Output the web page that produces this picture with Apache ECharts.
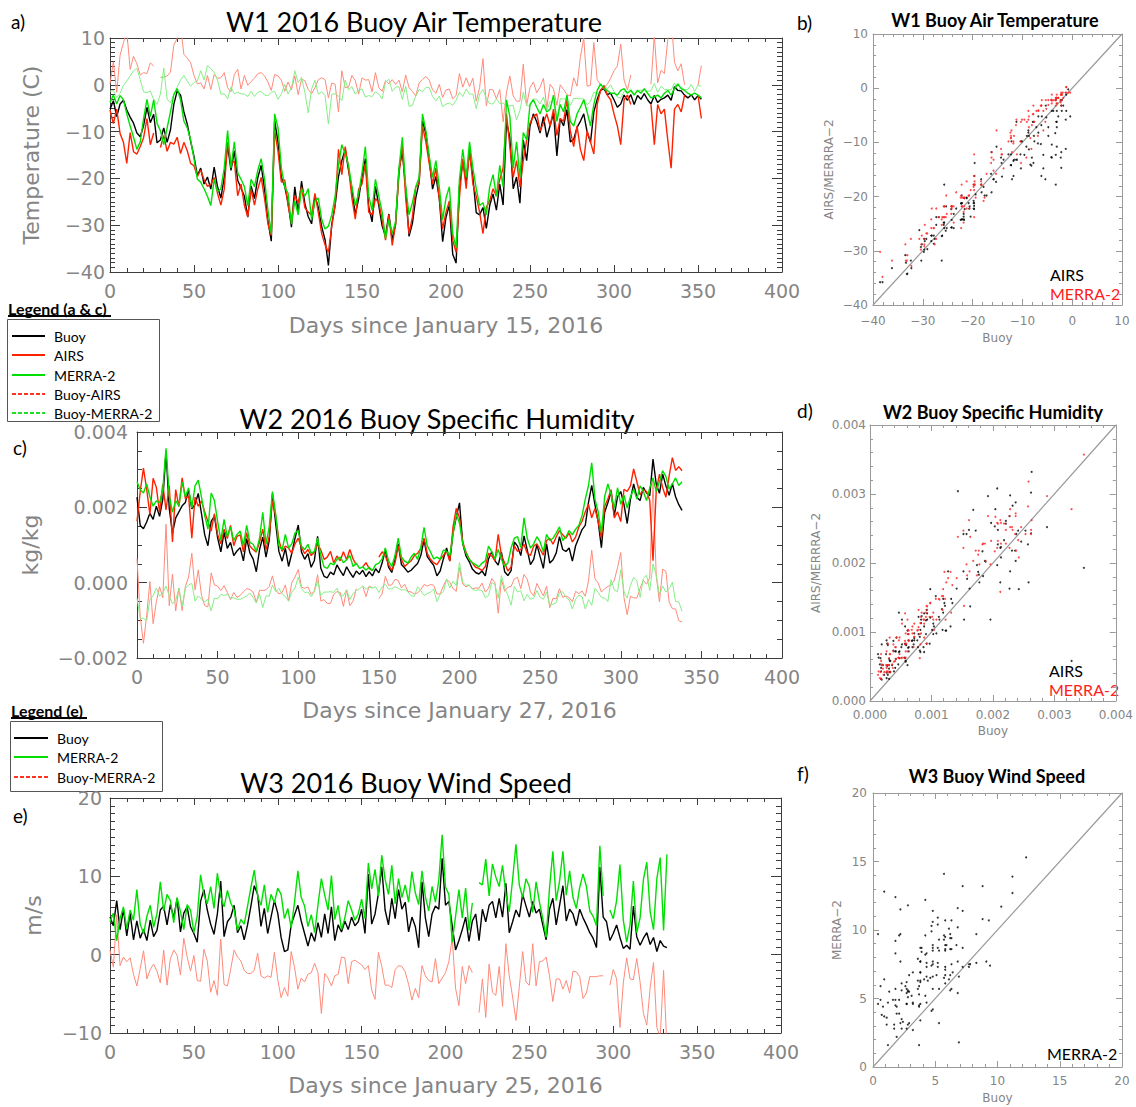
<!DOCTYPE html>
<html>
<head>
<meta charset="utf-8">
<title>W1 / W2 / W3 2016 buoy comparison</title>
<script src="https://cdn.jsdelivr.net/npm/echarts@6/dist/echarts.min.js"></script>
<style>
  html, body { margin: 0; padding: 0; background: #fff; }
  #chart { width: 1136px; height: 1107px; }
</style>
</head>
<body>
<div id="chart"></div>
<script>
// samples every 2nd day, starting at day 0
const STEP = 2;

// W1 air temperature (C), days 0..352
const tempBuoy = [
  -5.2, -3.4, -6.8, -4.1, -3.3, -5.4, -6.9, -8.2, -10.3, -11.1,
  -8.7, -4.8, -8.1, -6.3, -12.4, -11.8, -9.2, -12.3, -9.6, -4.2,
  -1.3, -2.2, -5.8, -8.4, -12.1, -15.3, -19.4, -17.8, -21.2, -19.7,
  -22.3, -17.6, -21.8, -24.2, -19.7, -12.8, -18.3, -14.1, -20.4, -22.1,
  -23.8, -28.3, -21.6, -24.3, -19.8, -17.2, -22.4, -29.1, -33.4, -7.6,
  -12.3, -19.8, -21.7, -25.2, -30.4, -21.8, -27.3, -20.6, -25.4, -28.2,
  -29.7, -23.8, -26.2, -30.3, -33.1, -38.6, -29.8, -25.7, -19.6, -16.2,
  -13.8, -18.3, -22.2, -27.8, -24.3, -19.7, -15.8, -26.1, -29.3, -21.7,
  -25.8, -30.2, -32.3, -27.6, -33.2, -29.7, -18.2, -14.3, -22.1, -32.4,
  -29.6, -24.2, -20.8, -7.7, -10.4, -15.8, -22.3, -19.6, -24.2, -33.5,
  -28.3, -25.7, -36.2, -38.1, -21.8, -16.3, -20.7, -14.2, -19.8, -27.3,
  -27.8, -26.2, -30.7, -25.8, -23.3, -26.8, -21.2, -25.7, -7.8, -11.3,
  -22.2, -19.7, -25.3, -11.8, -16.2, -8.8, -6.2, -7.9, -10.3, -6.8,
  -11.2, -8.7, -6.1, -15.2, -7.2, -8.8, -5.3, -12.2, -11.7, -9.1,
  -7.8, -6.2, -10.1, -12.3, -5.8, -3.1, -1.2, -0.8, -2.1, -1.8,
  -3.2, -4.8, -4.1, -2.2, -3.3, -2.1, -4.2, -2.3, -3.1, -1.9,
  -3.2, -4.1, -2.3, -3.8, -3.1, -2.8, -2.2, -3.3, -0.4, -1.2,
  -1.3, -2.2, -2.8, -2.1, -3.2, -2.3, -3.1
];
const tempAirs = [
  -5.4, -8.3, -5.2, -10.4, -12.3, -16.8, -10.2, -14.3, -14.8, -13.2,
  -11.3, -7.2, -12.8, -10.3, null, -13.4, -10.8, -14.2, -12.3, -12.7,
  -11.2, -14.7, -12.3, -14.1, -16.8, -17.3, -19.6, -18.2, -20.3, -21.7,
  -21.3, -19.8, -23.2, -25.7, -22.3, -12.2, -16.8, -16.3, -23.7, -21.2,
  -25.8, -28.2, -22.3, -25.7, -22.2, -19.8, -24.3, -29.7, -32.2, -9.8,
  -14.2, -20.8, -20.3, -25.8, -29.3, -23.7, -25.2, -21.8, -26.3, -27.2,
  -27.8, -23.2, -27.3, -31.8, -34.2, -35.8, -30.2, -25.8, -13.8, -19.2,
  -13.2, -17.8, -24.2, -28.7, -22.3, -21.2, -16.8, -27.2, -27.8, -24.3,
  -25.2, -28.8, -33.2, -27.8, -34.3, -29.8, -19.2, -12.8, -24.2, -31.8,
  -28.2, -21.8, -21.2, -8.8, -12.2, -16.8, -21.2, -17.8, -24.3, -30.8,
  -27.2, -24.8, -33.2, -35.8, -24.2, -15.8, -22.2, -13.8, -21.2, -23.8,
  -27.2, -31.8, -26.2, -24.8, -22.2, -23.8, -20.2, -17.8, -6.2, -13.2,
  -19.8, -16.2, -21.8, -16.2, -11.8, -8.2, -6.8, -6.2, -9.8, -8.2,
  -6.2, -8.8, -5.2, -10.8, -7.2, -7.8, -3.2, -9.8, -13.2, -8.8,
  -13.8, -16.2, -9.8, -12.2, -14.8, -4.2, -1.2, -0.2, -2.2, -3.2,
  -6.2, -8.8, -12.8, -3.2, -2.2, -4.2, null, null, -10.8, null,
  null, -4.2, -12.8, -4.2, -6.2, -5.2, -11.8, -17.8, -5.2, -4.2,
  -5.8, -2.2, null, null, null, -2.2, -7.2
];
const tempMerra = [
  -3.8, -2.2, -4.1, -2.3, -3.2, -6.2, -8.8, -11.2, -13.8, -12.2,
  -7.2, -3.1, -6.8, -3.2, -8.2, -9.8, -12.8, -9.2, -5.8, -2.1,
  -0.8, -3.2, -7.8, -9.2, -11.8, -15.8, -20.2, -20.8, -22.2, -23.8,
  -25.8, -20.2, -22.8, -22.2, -17.8, -9.8, -17.8, -12.2, -18.8, -20.2,
  -21.8, -25.8, -20.2, -21.8, -18.2, -15.8, -20.2, -26.8, -31.8, -6.2,
  -9.2, -17.8, -21.8, -23.2, -29.8, -24.8, -27.8, -22.2, -23.8, -22.2,
  -28.8, -24.8, -24.2, -28.8, -30.8, -30.2, -27.8, -23.8, -17.2, -12.8,
  -14.8, -17.2, -21.8, -25.8, -23.2, -18.8, -13.2, -23.8, -26.8, -20.2,
  -23.8, -27.2, -32.8, -28.8, -31.8, -29.2, -17.8, -11.2, -21.8, -27.8,
  -25.2, -21.8, -19.8, -6.2, -9.8, -15.2, -19.8, -16.2, -21.8, -28.8,
  -24.2, -21.8, -31.8, -34.8, -20.2, -13.8, -19.8, -12.2, -17.8, -22.2,
  -25.8, -25.2, -27.8, -21.8, -19.2, -23.8, -17.2, -21.8, -3.2, -6.8,
  -17.8, -12.2, -19.8, -10.2, -11.8, -4.2, -3.2, -4.8, -6.2, -4.2,
  -5.8, -5.2, -2.2, -7.8, -4.2, -5.8, -2.2, -7.8, -8.8, -6.2,
  -4.8, -3.2, -5.8, -8.8, -4.2, -1.2, 0.2, -0.8, -1.2, -1.8,
  -1.8, -2.2, -1.2, -0.8, -1.8, -1.2, -2.2, -1.2, -1.8, -0.8,
  -1.8, -2.8, -2.6, -2.2, -2.8, -1.8, -1.2, -2.2, -0.8, 0.2,
  -0.8, -1.2, -1.8, -2.2, -1.8, -2.2, -2.8
];

// W2 specific humidity, read in g/kg (plotted as kg/kg), days 0..338
const humBuoy = [
  2.27, 1.52, 1.43, 1.61, 1.84, 1.68, 2.03, 1.76, 2.21, 3.48,
  1.97, 1.31, 1.72, 1.88, 2.04, 2.13, 2.46, 1.96, 2.08, 2.37,
  1.83, 1.27, 0.98, 1.63, 1.77, 1.19, 0.82, 1.34, 0.91, 1.07,
  0.72, 0.84, 0.93, 0.58, 1.17, 0.79, 0.63, 0.29, 0.88, 1.21,
  0.68, 1.12, 2.36, 1.58, 0.83, 0.57, 0.91, 0.43, 0.78, 1.18,
  1.53, 0.81, 0.62, 0.77, 0.41, 0.59, 1.23, 0.38, 0.17, 0.13,
  0.28, 0.21, 0.47, 0.32, 0.19, 0.42, 0.27, 0.14, 0.31, 0.22,
  0.33, 0.16, 0.29, 0.18, 0.37, 0.26, 0.52, 0.88, 0.41, 0.27,
  0.61, 1.03, 0.48, 0.39, 0.28, 0.33, 0.42, 0.51, 0.72, 1.13,
  0.69, 0.57, 0.46, 0.18, 0.31, 0.63, 0.92, 0.58, 1.32, 1.74,
  2.12, 1.04, 0.71, 0.56, 0.36, 0.27, 0.23, 0.31, 0.18, 0.63,
  0.82, 0.58, 0.47, 0.81, 0.29, 0.19, 0.32, 1.08, 0.97, 0.72,
  1.24, 0.87, 0.48, 0.62, 1.01, 0.69, 0.38, 1.03, 0.52, 0.61,
  0.79, 1.22, 0.88, 0.83, 0.92, 0.57, 0.98, 1.19, 1.41, 1.52,
  2.13, 2.58, 2.07, 1.62, 0.93, 1.87, 2.12, 2.41, 1.78, 2.28,
  2.42, 2.08, 1.57, 2.21, 2.62, 2.27, 2.18, 2.53, 2.38, 2.31,
  3.28, 2.62, 2.37, 2.88, 2.57, 2.32, 2.63, 2.28, 2.07, 1.92
];
const humAirs = [
  1.63, 2.42, 3.04, 2.48, 1.81, 2.77, 2.53, 1.87, 2.61, 1.93,
  2.58, 1.08, 2.47, 2.02, 2.78, 2.23, 2.31, 1.18, 2.27, 2.03,
  2.17, 1.88, 1.62, 1.37, 1.83, 1.28, 1.03, 1.42, 1.17, 1.52,
  0.98, 1.23, 1.27, 0.82, 1.33, 0.97, 0.88, 0.81, 1.08, 1.42,
  0.87, 1.22, 2.18, 1.77, 1.13, 0.83, 0.97, 0.92, 0.78, 1.03,
  1.18, 0.93, 0.77, 0.88, 0.72, 0.81, 1.02, 0.87, 0.62, 0.68,
  0.83, 0.52, 0.71, 0.58, 0.82, 0.61, 0.88, 0.63, 0.47, null,
  0.42, 0.53, 0.38, 0.32, null, 0.68, 0.82, 0.71, 0.48, 0.33,
  0.52, 0.97, 0.62, 0.43, 0.51, 0.58, 0.72, 0.78, 0.91, 1.18,
  0.78, 0.62, 0.53, 0.48, 0.61, 0.72, 0.83, 0.57, 1.48, 1.97,
  1.72, 1.08, 0.82, 0.63, 0.52, 0.41, 0.38, 0.32, 0.43, 0.78,
  0.71, 0.58, 1.28, 0.73, 0.52, 0.31, 0.42, 0.98, 0.83, 0.88,
  1.02, 0.78, 0.72, 0.97, 1.03, 0.88, 0.73, 1.12, 1.18, 1.02,
  1.22, 1.38, 1.27, 1.18, 1.32, 1.08, 1.21, 1.48, 1.63, 1.88,
  2.08, 1.72, 1.97, 1.63, 1.18, 2.03, 2.22, 2.47, 1.72, 1.88,
  1.62, 2.48, 2.42, 2.57, 3.02, 2.68, 2.33, 2.47, 2.42, 2.18,
  0.58, 2.43, 2.88, 2.52, 2.27, 2.83, 3.32, 2.98, 3.08, 2.97
];
const humMerra = [
  2.68, 2.47, 2.38, 2.62, 2.28, 2.03, 2.17, 2.12, 2.48, 3.57,
  2.32, 1.87, 2.18, 2.03, 2.67, 2.28, 2.52, 1.98, 2.57, 2.72,
  2.27, 1.78, 1.42, 2.38, 2.18, 1.62, 1.13, 1.68, 1.22, 1.48,
  1.12, 1.28, 1.37, 0.98, 1.52, 1.07, 1.02, 0.83, 1.18, 1.87,
  1.03, 1.48, 2.42, 1.82, 0.98, 0.87, 1.28, 0.92, 1.03, 1.32,
  1.38, 0.97, 0.88, 1.02, 0.78, 0.83, 1.18, 0.72, 0.42, 0.38,
  0.52, 0.47, 0.62, 0.68, 0.53, 0.61, 0.72, 0.43, 0.52, 0.38,
  0.42, 0.33, 0.41, 0.32, 0.48, 0.52, 0.63, 0.92, 0.58, 0.43,
  0.72, 1.18, 0.68, 0.57, 0.52, 0.68, 0.78, 0.62, 0.93, 1.47,
  0.98, 0.82, 0.63, 0.68, 0.62, 0.87, 0.83, 0.72, 1.28, 1.82,
  1.58, 1.03, 0.78, 0.62, 0.53, 0.48, 0.42, 0.52, 0.58, 0.97,
  0.82, 0.63, 0.88, 0.62, 0.43, 0.52, 0.92, 1.18, 1.22, 0.93,
  1.72, 1.18, 0.92, 1.03, 1.22, 1.08, 0.82, 1.28, 1.12, 1.18,
  1.32, 1.48, 1.12, 1.22, 1.38, 1.27, 1.42, 1.52, 1.78, 2.22,
  2.58, 3.18, 2.22, 1.88, 1.32, 2.28, 2.62, 2.33, 1.98, 2.52,
  2.08, 2.32, 1.98, 2.28, 2.48, 2.22, 2.57, 2.42, 2.18, 2.52,
  2.78, 2.42, 2.68, 2.97, 2.82, 2.48, 2.62, 2.78, 2.58, 2.68
];

// W3 wind speed (m/s), days 0..332
const windBuoy = [
  4.8, 3.7, 6.9, 3.2, 5.8, 2.4, 5.3, 1.9, 4.3, 2.1,
  3.2, 1.8, 4.4, 2.3, 3.1, 5.7, 6.2, 3.8, 6.4, 4.7,
  7.2, 2.9, 5.3, 6.1, 3.6, 2.7, 1.6, 6.8, 8.3, 5.7,
  3.9, 2.6, 5.2, 9.4, 2.3, 4.2, 4.8, 6.3, 2.8, 3.7,
  1.9, 3.8, 6.2, 8.8, 7.7, 3.6, 5.9, 2.7, 4.8, 6.9,
  5.3, 2.2, 0.4, 0.6, 3.8, 5.1, 6.3, 4.3, 2.7, 1.1,
  2.8, 1.7, 4.1, 2.2, 5.2, 2.7, 6.1, 1.8, 3.8, 2.9,
  4.3, 3.2, 4.8, 3.7, 4.2, 5.8, 2.7, 10.3, 3.9, 5.2,
  7.8, 11.2, 5.7, 3.8, 7.2, 4.6, 8.3, 5.8, 6.7, 2.9,
  4.8, 3.6, 0.9, 9.3, 4.7, 2.3, 5.2, 6.2, 5.8, 12.3,
  6.3, 6.8, 3.7, 0.6, 1.8, 3.2, 4.8, 1.7, 4.3, 5.2,
  1.8, 5.8, 4.2, 6.3, 6.8, 4.7, 7.2, 4.8, 9.1, 2.8,
  4.2, 5.7, 4.8, 7.7, 6.2, 4.8, 6.8, 5.3, 5.8, 3.8,
  1.9, 5.8, 7.2, 3.8, 6.3, 8.8, 4.3, 5.8, 5.2, 3.7,
  5.8, 4.7, 3.8, 2.8, 2.1, 0.9, 11.2, 4.8, 4.2, 1.8,
  2.7, 3.8, 2.2, 0.8, 1.2, 0.7, 6.2, 2.3, 1.2, 2.1,
  2.8, 1.3, 2.2, 0.4, 1.8, 1.1, 0.9
];
const windMerra = [
  4.2, 5.3, 1.8, 4.6, 6.1, 3.3, 5.7, 4.4, 8.3, 3.9,
  2.7, 4.9, 6.3, 3.5, 5.2, 9.3, 5.6, 7.7, 6.9, 4.1,
  7.3, 5.5, 3.2, 6.4, 5.7, 2.8, 4.9, 10.2, 7.6, 6.5,
  8.7, 5.9, 10.4, 7.4, 6.1, 8.2, 6.6, 5.7, 3.1, 4.5,
  3.9, 6.2, 8.6, 10.8, 7.5, 6.3, 8.9, 5.4, 7.7, 6.6,
  8.5, 7.7, 4.6, 5.9, 3.4, 6.7, 10.7, 7.3, 6.2, 3.6,
  5.1, 2.8, 6.4, 9.7, 7.6, 5.7, 10.1, 4.5, 6.3, 3.2,
  4.7, 6.9, 5.7, 4.4, 5.2, 7.1, 4.6, 11.7, 8.4, 10.9,
  7.5, 12.7, 9.6, 7.7, 11.4, 6.5, 9.7, 7.3, 8.9, 6.7,
  10.6, 7.9, 6.4, 10.7, 7.4, 5.6, 8.7, 6.7, 9.5, 15.3,
  8.6, 7.7, 1.6, 4.9, 8.3, 4.7, 8.5, 3.1, 6.6, null,
  9.2, 8.9, 12.2, 7.5, 11.6, 9.9, 8.7, 11.4, 7.7, 5.5,
  9.6, 14.1, 8.9, 7.3, 9.7, 8.7, 5.4, 9.3, 6.7, 4.6,
  2.2, 8.5, 13.2, 6.9, 9.4, 13.2, 7.6, 10.7, 7.3, 5.9,
  8.6, 10.3, 8.7, 5.6, 4.9, 3.7, 13.9, 7.5, null, 5.7,
  4.6, 6.9, 11.5, 4.4, 1.6, 3.8, 9.4, 2.8, 4.7, 9.6,
  11.8, 5.5, 3.2, 9.7, 12.4, 3.1, 12.8
];

const G_KG = 1e-3;

const C_BUOY = '#000000';
const C_AIRS = '#ff2200';
const C_MERRA = '#00e000';
const C_DIFF_RED = '#ff8a7a';
const C_DIFF_GREEN = '#86ee86';
const AXIS_FONT = 'DejaVu Sans';
const TEXT_FONT = 'Lato';
const LABEL_GREY = '#858585';

function toLine(vals, scale) {
  return vals.map((v, i) => [i * STEP, v == null ? null : v * scale]);
}
function diffLine(a, b, scale) {
  return a.map((v, i) => [i * STEP, (v == null || b[i] == null) ? null : (v - b[i]) * scale]);
}
function toPairs(x, y, scale) {
  const out = [];
  x.forEach((v, i) => {
    if (v != null && y[i] != null) out.push([v * scale, y[i] * scale]);
  });
  return out;
}
function fmt(dec) {
  return function (v) {
    if (Math.abs(v) < 1e-9) v = 0;
    const s = Math.abs(v).toFixed(dec);
    return v < 0 ? '\u2212' + s : s;
  };
}

// main axis + a mirrored one on the opposite side (IDL style box with ticks)
function axisPair(dim, gi, o) {
  const base = {
    type: 'value', gridIndex: gi, min: o.min, max: o.max, interval: o.interval,
    splitLine: { show: false },
    axisLine: { onZero: false, lineStyle: { color: o.line, width: 1 } },
    axisTick: { inside: true, length: o.tick, lineStyle: { color: o.line } },
    minorTick: { show: true, splitNumber: o.minor, length: o.minorLen, lineStyle: { color: o.line } }
  };
  const main = Object.assign({}, base, {
    position: dim === 'x' ? 'bottom' : 'left',
    name: o.name, nameLocation: 'middle', nameGap: o.nameGap,
    nameTextStyle: { fontFamily: AXIS_FONT, fontSize: o.nameSize, color: LABEL_GREY },
    axisLabel: { fontFamily: AXIS_FONT, fontSize: o.labelSize, color: LABEL_GREY, margin: o.margin, formatter: o.fmt }
  });
  const mirror = Object.assign({}, base, {
    position: dim === 'x' ? 'top' : 'right',
    axisLabel: { show: false }
  });
  return [main, mirror];
}

const TS = { line: '#3c3c3c', tick: 10, minorLen: 5, labelSize: 19, nameSize: 22 };
const SC = { line: '#9a9a9a', tick: 6, minorLen: 3, labelSize: 12, nameSize: 12 };

const xAxes = [].concat(
  axisPair('x', 0, Object.assign({}, TS, { min: 0, max: 400, interval: 50, minor: 5, tick: 7, minorLen: 4, name: 'Days since January 15, 2016', nameGap: 42, margin: 9, fmt: fmt(0) })),
  axisPair('x', 1, Object.assign({}, SC, { min: -40, max: 10, interval: 10, minor: 5, name: 'Buoy', nameGap: 27, margin: 10, fmt: fmt(0) })),
  axisPair('x', 2, Object.assign({}, TS, { min: 0, max: 400, interval: 50, minor: 5, tick: 7, minorLen: 4, name: 'Days since January 27, 2016', nameGap: 41, margin: 9, fmt: fmt(0) })),
  axisPair('x', 3, Object.assign({}, SC, { min: 0, max: 0.004, interval: 0.001, minor: 5, name: 'Buoy', nameGap: 24, margin: 8, fmt: fmt(3) })),
  axisPair('x', 4, Object.assign({}, TS, { min: 0, max: 400, interval: 50, minor: 5, tick: 7, minorLen: 4, name: 'Days since January 25, 2016', nameGap: 41, margin: 9, fmt: fmt(0) })),
  axisPair('x', 5, Object.assign({}, SC, { min: 0, max: 20, interval: 5, minor: 5, name: 'Buoy', nameGap: 25, margin: 8, fmt: fmt(0) }))
);
const yAxes = [].concat(
  axisPair('y', 0, Object.assign({}, TS, { min: -40, max: 10, interval: 10, minor: 10, name: 'Temperature (C)', nameGap: 68, margin: 5, fmt: fmt(0) })),
  axisPair('y', 1, Object.assign({}, SC, { min: -40, max: 10, interval: 10, minor: 5, name: 'AIRS/MERRRA\u22122', nameGap: 38, margin: 5, fmt: fmt(0) })),
  axisPair('y', 2, Object.assign({}, TS, { min: -0.002, max: 0.004, interval: 0.002, minor: 4, name: 'kg/kg', nameGap: 96, margin: 9, fmt: fmt(3) })),
  axisPair('y', 3, Object.assign({}, SC, { min: 0, max: 0.004, interval: 0.001, minor: 5, name: 'AIRS/MERRRA\u22122', nameGap: 48, margin: 4, fmt: fmt(3) })),
  axisPair('y', 4, Object.assign({}, TS, { min: -10, max: 20, interval: 10, minor: 10, name: 'm/s', nameGap: 66, margin: 8, fmt: fmt(0) })),
  axisPair('y', 5, Object.assign({}, SC, { min: 0, max: 20, interval: 5, minor: 5, name: 'MERRA\u22122', nameGap: 30, margin: 6, fmt: fmt(0) }))
);

function line(name, data, gi, color, width, z) {
  return {
    type: 'line', name, data, xAxisIndex: 2 * gi, yAxisIndex: 2 * gi,
    showSymbol: false, symbol: 'none', connectNulls: false, z,
    lineStyle: { color, width }, itemStyle: { color }
  };
}
function dots(name, data, gi, color) {
  return {
    type: 'scatter', name, data, xAxisIndex: 2 * gi, yAxisIndex: 2 * gi,
    symbolSize: 2, itemStyle: { color }, z: 4
  };
}
function diagonal(gi, lo, hi) {
  return {
    type: 'line', data: [[lo, lo], [hi, hi]], xAxisIndex: 2 * gi, yAxisIndex: 2 * gi,
    showSymbol: false, symbol: 'none', lineStyle: { color: '#999', width: 1.2 }, z: 3
  };
}

const series = [
  // a) W1 air temperature
  line('Buoy-AIRS', diffLine(tempBuoy, tempAirs, 1), 0, C_DIFF_RED, 1, 1),
  line('Buoy-MERRA-2', diffLine(tempBuoy, tempMerra, 1), 0, C_DIFF_GREEN, 1, 1),
  line('Buoy', toLine(tempBuoy, 1), 0, C_BUOY, 1.4, 2),
  line('AIRS', toLine(tempAirs, 1), 0, C_AIRS, 1.4, 3),
  line('MERRA-2', toLine(tempMerra, 1), 0, C_MERRA, 1.4, 4),
  // b)
  diagonal(1, -40, 10),
  dots('AIRS', toPairs(tempBuoy, tempAirs, 1), 1, '#000'),
  dots('MERRA-2', toPairs(tempBuoy, tempMerra, 1), 1, '#ff2020'),
  // c) W2 specific humidity
  line('Buoy-AIRS', diffLine(humBuoy, humAirs, G_KG), 2, C_DIFF_RED, 1, 1),
  line('Buoy-MERRA-2', diffLine(humBuoy, humMerra, G_KG), 2, C_DIFF_GREEN, 1, 1),
  line('Buoy', toLine(humBuoy, G_KG), 2, C_BUOY, 1.4, 2),
  line('AIRS', toLine(humAirs, G_KG), 2, C_AIRS, 1.4, 3),
  line('MERRA-2', toLine(humMerra, G_KG), 2, C_MERRA, 1.4, 4),
  // d)
  diagonal(3, 0, 0.004),
  dots('AIRS', toPairs(humBuoy, humAirs, G_KG), 3, '#000'),
  dots('MERRA-2', toPairs(humBuoy, humMerra, G_KG), 3, '#ff2020'),
  // e) W3 wind speed
  line('Buoy-MERRA-2', diffLine(windBuoy, windMerra, 1), 4, C_DIFF_RED, 1, 1),
  line('Buoy', toLine(windBuoy, 1), 4, C_BUOY, 1.4, 2),
  line('MERRA-2', toLine(windMerra, 1), 4, C_MERRA, 1.4, 3),
  // f)
  diagonal(5, 0, 20),
  dots('MERRA-2', toPairs(windBuoy, windMerra, 1), 5, '#000')
];

function txt(x, y, text, font, fill, align) {
  const a = align || 'left';
  return {
    type: 'text', x, y, silent: true,
    style: { text, font, fill: fill || '#000', textAlign: a, align: a, textVerticalAlign: 'middle', verticalAlign: 'middle' }
  };
}
function seg(x1, y1, x2, y2, color, dashed) {
  return {
    type: 'line', silent: true, shape: { x1, y1, x2, y2 },
    style: { stroke: color, lineWidth: 2, lineDash: dashed ? [4, 2] : null }
  };
}
function box(x, y, w, h) {
  return { type: 'rect', silent: true, shape: { x, y, width: w, height: h }, style: { fill: 'none', stroke: '#555', lineWidth: 1 } };
}

const titleFont = '27px ' + TEXT_FONT;
const smallTitleFont = 'bold 18px ' + TEXT_FONT;
const letterFont = '19px ' + TEXT_FONT;
const legendFont = '14px ' + TEXT_FONT;
const legendTitleFont = 'bold 16px ' + TEXT_FONT;
const tagFont = '16px ' + TEXT_FONT;

const graphics = [
  txt(414, 21, 'W1 2016 Buoy Air Temperature', titleFont, '#000', 'center'),
  txt(437, 418, 'W2 2016 Buoy Specific Humidity', titleFont, '#000', 'center'),
  txt(406, 782, 'W3 2016 Buoy Wind Speed', titleFont, '#000', 'center'),
  txt(995, 20, 'W1 Buoy Air Temperature', smallTitleFont, '#000', 'center'),
  txt(993, 412, 'W2 Buoy Specific Humidity', smallTitleFont, '#000', 'center'),
  txt(997, 776, 'W3 Buoy Wind Speed', smallTitleFont, '#000', 'center'),
  txt(11, 21, 'a)', letterFont),
  txt(13, 447, 'c)', letterFont),
  txt(13, 815, 'e)', letterFont),
  txt(797, 22, 'b)', letterFont),
  txt(797, 410, 'd)', letterFont),
  txt(797, 773, 'f)', letterFont),
  // in-plot tags of the scatter panels
  txt(1050, 274, 'AIRS', tagFont, '#000'),
  txt(1050, 293, 'MERRA-2', tagFont, '#ff2020'),
  txt(1049, 670, 'AIRS', tagFont, '#000'),
  txt(1049, 689, 'MERRA-2', tagFont, '#ff2020'),
  txt(1047, 1053, 'MERRA-2', tagFont, '#000'),
  // legend (a & c)
  txt(8, 308, 'Legend (a & c)', legendTitleFont),
  seg(8, 316, 111, 316, '#000', false),
  box(7.5, 319.5, 152, 102),
  seg(12, 336, 45, 336, C_BUOY, false), txt(54, 336, 'Buoy', legendFont),
  seg(12, 355, 45, 355, C_AIRS, false), txt(54, 355, 'AIRS', legendFont),
  seg(12, 375, 45, 375, C_MERRA, false), txt(54, 375, 'MERRA-2', legendFont),
  seg(12, 394, 45, 394, '#ff3322', true), txt(54, 394, 'Buoy-AIRS', legendFont),
  seg(12, 413, 45, 413, '#22dd22', true), txt(54, 413, 'Buoy-MERRA-2', legendFont),
  // legend (e)
  txt(11, 710, 'Legend (e)', legendTitleFont),
  seg(11, 718, 87, 718, '#000', false),
  box(10.5, 721.5, 152, 70),
  seg(14, 738, 48, 738, C_BUOY, false), txt(57, 738, 'Buoy', legendFont),
  seg(14, 757, 48, 757, C_MERRA, false), txt(57, 757, 'MERRA-2', legendFont),
  seg(14, 777, 48, 777, '#ff3322', true), txt(57, 777, 'Buoy-MERRA-2', legendFont)
];

const chart = echarts.init(document.getElementById('chart'), null, { renderer: 'svg' });
chart.setOption({
  animation: false,
  backgroundColor: '#fff',
  grid: [
    { left: 110, top: 38, width: 672, height: 234 },
    { left: 873, top: 34, width: 249, height: 271 },
    { left: 137, top: 432, width: 645, height: 226 },
    { left: 870, top: 425, width: 247, height: 276 },
    { left: 110, top: 798, width: 671, height: 235 },
    { left: 873, top: 793, width: 249, height: 274 }
  ],
  xAxis: xAxes,
  yAxis: yAxes,
  series: series,
  graphic: { elements: graphics }
});
</script>
</body>
</html>
